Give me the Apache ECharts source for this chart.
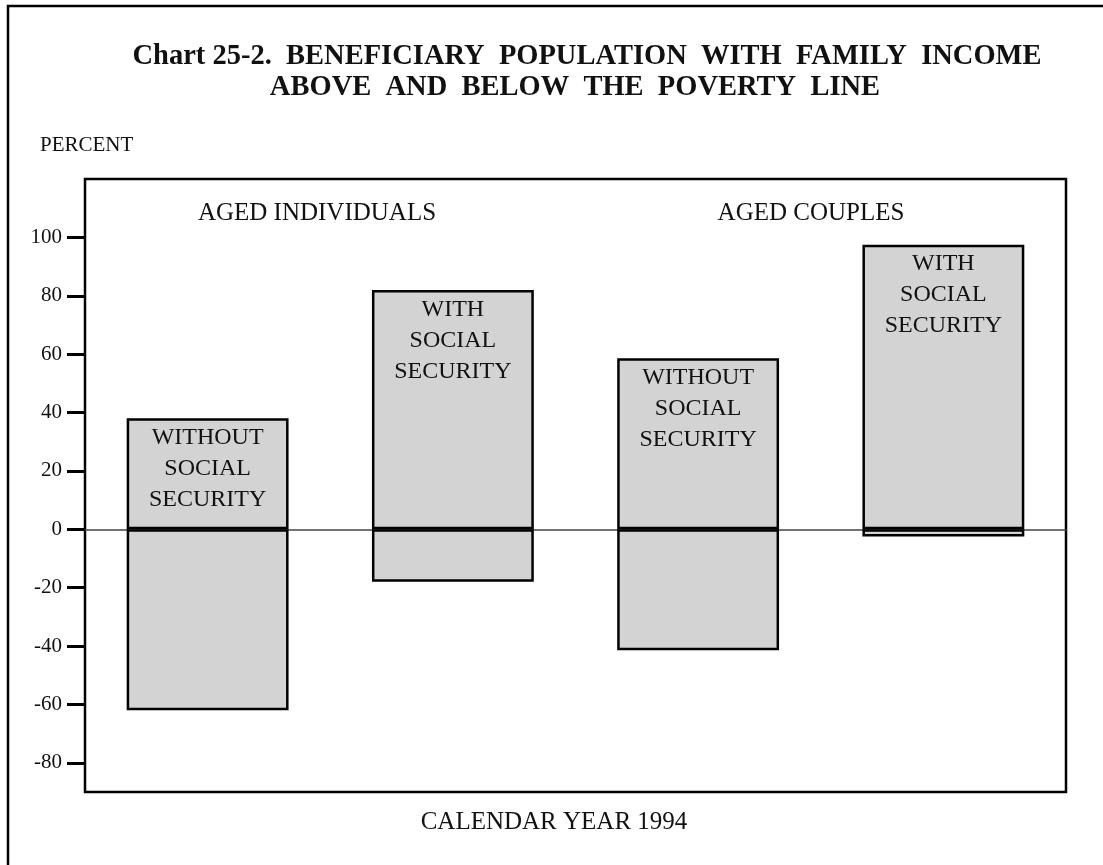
<!DOCTYPE html>
<html><head><meta charset="utf-8">
<script src="https://cdn.jsdelivr.net/npm/echarts@6/dist/echarts.min.js"></script>
<style>html,body{margin:0;padding:0;background:#fff}#c{width:1103px;height:865px}</style>
</head><body><div id="c"></div>
<script>
const categories = ['Aged individuals without SS', 'Aged individuals with SS', 'Aged couples without SS', 'Aged couples with SS'];
const barLabels = ['WITHOUT\nSOCIAL\nSECURITY', 'WITH\nSOCIAL\nSECURITY', 'WITHOUT\nSOCIAL\nSECURITY', 'WITH\nSOCIAL\nSECURITY'];
const aboveValues = [38, 82, 58.6, 97.5];
const belowValues = [-62, -18, -41.4, -2.5];
const yTicks = [-80, -60, -40, -20, 0, 20, 40, 60, 80, 100];
const groupLabels = ['AGED INDIVIDUALS', 'AGED COUPLES'];
const titleLines = ['Chart 25-2.  BENEFICIARY  POPULATION  WITH  FAMILY  INCOME', 'ABOVE  AND  BELOW  THE  POVERTY  LINE'];
const yName = 'PERCENT';
const xName = 'CALENDAR YEAR 1994';

const SERIF = '"Liberation Serif", "DejaVu Serif", serif';
const chart = echarts.init(document.getElementById('c'));

function txt(text, x, y, size, weight, align) {
  return {
    type: 'text', x: x, y: y, silent: true,
    style: {
      text: text, fill: '#111',
      font: (weight || 'normal') + ' ' + size + 'px ' + SERIF,
      textAlign: align || 'center', textVerticalAlign: 'middle'
    }
  };
}

const barStyle = { color: '#d3d3d3', borderColor: '#000', borderWidth: 2.5 };

chart.setOption({
  animation: false,
  backgroundColor: '#fff',
  grid: {
    left: 85, right: 37, top: 179, bottom: 73,
    show: true, borderColor: '#000', borderWidth: 2.5, backgroundColor: 'transparent'
  },
  xAxis: {
    type: 'category', data: categories,
    axisLine: { onZero: true, lineStyle: { color: '#444', width: 1.5 } },
    axisTick: { show: false }, axisLabel: { show: false }, splitLine: { show: false }
  },
  yAxis: {
    type: 'value', min: -90, max: 120,
    axisLine: { show: false },
    axisTick: { show: true, inside: false, length: 18, customValues: yTicks, lineStyle: { color: '#000', width: 3 } },
    axisLabel: { customValues: yTicks, margin: 23, fontSize: 21, fontFamily: SERIF, color: '#111' },
    splitLine: { show: false }
  },
  series: [
    {
      type: 'bar', stack: 'pop', data: aboveValues, barWidth: '66%',
      itemStyle: barStyle,
      label: {
        show: true, position: 'insideTop', distance: 4,
        formatter: p => barLabels[p.dataIndex],
        fontSize: 24, lineHeight: 31, fontFamily: SERIF, color: '#111', align: 'center'
      }
    },
    {
      type: 'bar', stack: 'pop', data: belowValues, barWidth: '66%',
      itemStyle: barStyle
    }
  ],
  graphic: [
    { type: 'rect', shape: { x: 8, y: 6, width: 1200, height: 1000 }, style: { fill: 'none', stroke: '#000', lineWidth: 2.5 }, silent: true, z: -10 },
    txt(titleLines[0], 587, 57, 28.5, 'bold'),
    txt(titleLines[1], 575, 88, 28.5, 'bold'),
    txt(yName, 40, 145, 21, 'normal', 'left'),
    txt(groupLabels[0], 317, 213, 25),
    txt(groupLabels[1], 811, 213, 25),
    txt(xName, 554, 822, 25)
  ]
});
</script>
</body></html>
